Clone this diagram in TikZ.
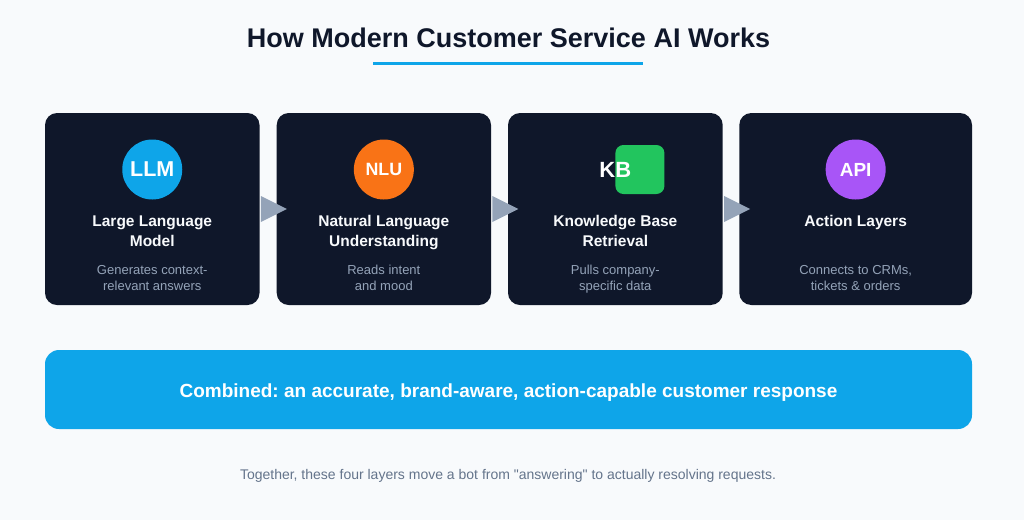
\documentclass[tikz,border=0pt]{standalone}
\usepackage{fontspec}
\setmainfont{Liberation Sans}[Ligatures=TeXOff]
\usetikzlibrary{calc}
\frenchspacing
\definecolor{bg}{HTML}{F8FAFC}
\definecolor{cardfill}{HTML}{0F172A}
\definecolor{sky}{HTML}{0EA5E9}
\definecolor{orng}{HTML}{F97316}
\definecolor{grn}{HTML}{22C55E}
\definecolor{purp}{HTML}{A855F7}
\definecolor{muted}{HTML}{94A3B8}
\definecolor{foot}{HTML}{64748B}
\definecolor{ttl}{HTML}{0F172A}
\definecolor{cardtext}{HTML}{F8FAFC}
\begin{document}
\begin{tikzpicture}[x=1pt,y=-1pt,
  card/.style={fill=cardfill, rounded corners=12pt, minimum height=192pt, inner sep=0pt},
  icon/.style={circle, minimum size=60pt, inner sep=0pt, text=white},
  ctitle/.style={text=cardtext, font=\bfseries\fontsize{15.5}{20}\selectfont, align=center, anchor=base, inner sep=0pt},
  cdesc/.style={text=muted, font=\fontsize{13}{16.7}\selectfont, align=center, anchor=base, inner sep=0pt},
  tri/.style={fill=muted},
  plain/.style={anchor=base, inner sep=0pt}]
\fill[bg] (0,0) rectangle (1024,520);
\useasboundingbox (0,0) rectangle (1024,520);

% title
\node[plain, text=ttl, font=\bfseries\fontsize{27}{27}\selectfont] (title) at (508.5,47.3) {How Modern Customer Service AI Works};
\node[fill=sky, minimum width=270pt, minimum height=3pt, inner sep=0pt] (uline) at (508,63.3) {};

% cards
\node[card, minimum width=214.5pt] (b1) at (152.25,209) {};
\node[card, minimum width=214.3pt] (b2) at (383.85,209) {};
\node[card, minimum width=214.7pt] (b3) at (615.35,209) {};
\node[card, minimum width=232.7pt] (b4) at (855.65,209) {};

% arrows
\foreach \a/\b in {b1/b2,b2/b3,b3/b4}{
  \fill[tri] ($(\a.east)+(1.2,-13)$) -- ($(\a.east)+(1.2,13)$) -- ($(\a.east)+(27.2,0)$) -- cycle;
}

% icons
\node[icon, fill=sky, font=\bfseries\fontsize{21.5}{21.5}\selectfont] (i1) at (152.25,169.5) {LLM};
\node[icon, fill=orng, font=\bfseries\fontsize{17.8}{17.8}\selectfont] (i2) at (383.85,169.5) {NLU};
\node[fill=grn, rounded corners=8pt, minimum size=49pt, inner sep=0pt] (i3sq) at (639.9,169.5) {};
\node[text=white, inner sep=0pt, font=\bfseries\fontsize{22}{22}\selectfont] (i3) at (615.35,169.5) {KB};
\node[icon, fill=purp, font=\bfseries\fontsize{19}{19}\selectfont] (i4) at (855.65,169.5) {API};

% card titles (base = last line)
\node[ctitle] (t1) at (152.25,246) {Large Language\\Model};
\node[ctitle] (t2) at (383.85,246) {Natural Language\\Understanding};
\node[ctitle] (t3) at (615.35,246) {Knowledge Base\\Retrieval};
\node[ctitle] (t4) at (855.65,226) {Action Layers};

% descriptions (base = last line)
\node[cdesc] (d1) at (152.25,290.7) {Generates context-\\relevant answers};
\node[cdesc] (d2) at (383.85,290.7) {Reads intent\\and mood};
\node[cdesc] (d3) at (615.35,290.7) {Pulls company-\\specific data};
\node[cdesc] (d4) at (855.65,290.7) {Connects to CRMs,\\tickets \& orders};

% combined bar
\node[fill=sky, rounded corners=14pt, minimum width=927pt, minimum height=79pt, inner sep=0pt] (bar) at (508.5,389.5) {};
\node[plain, text=white, font=\bfseries\fontsize{19}{19}\selectfont] (bart) at (508.5,397.8) {Combined: an accurate, brand-aware, action-capable customer response};

% footer
\node[plain, text=foot, font=\fontsize{14}{14}\selectfont] (footer) at (508,479) {Together, these four layers move a bot from "answering" to actually resolving requests.};
\end{tikzpicture}
\end{document}
